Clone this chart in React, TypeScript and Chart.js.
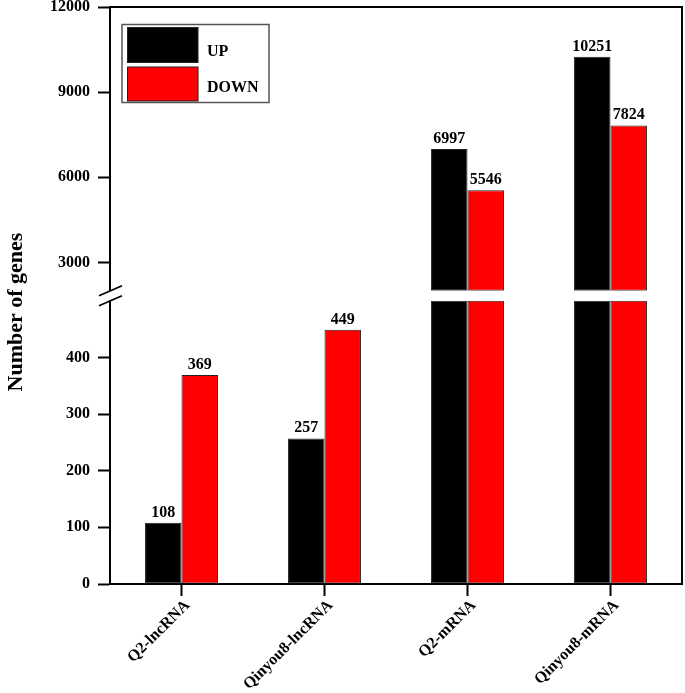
import React, { useEffect, useRef } from "react";
import { Chart, registerables } from "chart.js";

Chart.register(...registerables);

const categories = ["Q2-lncRNA", "Qinyou8-lncRNA", "Q2-mRNA", "Qinyou8-mRNA"];
const upValues = [108, 257, 6997, 10251];
const downValues = [369, 449, 5546, 7824];
const lowerTicks = [0, 100, 200, 300, 400];
const upperTicks = [3000, 6000, 9000, 12000];
const LOWER_MIN = 0;
const LOWER_MAX = 500;
const UPPER_MIN = 2000;
const UPPER_MAX = 12000;
const seriesNames = ["UP", "DOWN"];
const seriesColors = ["#000000", "#ff0000"];

const FONT = "'Liberation Serif', 'Times New Roman', serif";

const lowPart = (arr: number[]) => arr.map((v) => Math.min(v, LOWER_MAX));
const highPart = (arr: number[]) => arr.map((v) => (v > LOWER_MAX ? v : null));

const overlayPlugin = {
  id: "overlay",
  afterDatasetsDraw(chart: any) {
    const ctx = chart.ctx;
    ctx.save();
    ctx.font = `bold 16px ${FONT}`;
    ctx.fillStyle = "#000";
    ctx.textAlign = "center";
    ctx.textBaseline = "alphabetic";
    const series = [upValues, downValues];
    series.forEach((vals, s) => {
      vals.forEach((v, i) => {
        const dsIndex = v > LOWER_MAX ? 2 + s : s;
        const el = chart.getDatasetMeta(dsIndex).data[i];
        if (!el) return;
        ctx.fillText(String(v), el.x, el.y - 6);
      });
    });
    ctx.restore();
  },
  afterDraw(chart: any) {
    const ctx = chart.ctx;
    const { left, right, top, bottom } = chart.chartArea;
    const hi = chart.scales.yHi;
    const lo = chart.scales.yLo;
    ctx.save();
    ctx.strokeStyle = "#000";
    ctx.lineWidth = 2;
    ctx.beginPath();
    ctx.moveTo(left, top);
    ctx.lineTo(right, top);
    ctx.lineTo(right, bottom);
    ctx.stroke();
    // break marks
    const axX = hi.right;
    ctx.lineWidth = 1.8;
    ctx.beginPath();
    ctx.moveTo(axX - 11, hi.bottom + 5);
    ctx.lineTo(axX + 12, hi.bottom - 5);
    ctx.moveTo(axX - 11, lo.top + 5);
    ctx.lineTo(axX + 12, lo.top - 5);
    ctx.stroke();

    // legend
    ctx.lineWidth = 1.5;
    ctx.strokeStyle = "#555";
    ctx.fillStyle = "#fff";
    ctx.fillRect(122, 24.5, 147, 78);
    ctx.strokeRect(122, 24.5, 147, 78);
    const patches = [
      [127.5, 27.5, 70.5, 35],
      [127.5, 67, 70.5, 34],
    ];
    const textY = [52, 88];
    patches.forEach((p, k) => {
      ctx.fillStyle = seriesColors[k];
      ctx.fillRect(p[0], p[1], p[2], p[3]);
      ctx.strokeStyle = "#222";
      ctx.lineWidth = 1;
      ctx.strokeRect(p[0], p[1], p[2], p[3]);
      ctx.fillStyle = "#000";
      ctx.font = `bold 16px ${FONT}`;
      ctx.textAlign = "left";
      ctx.textBaseline = "middle";
      ctx.fillText(seriesNames[k], 207, textY[k]);
    });

    // y axis title
    ctx.translate(16, 312);
    ctx.rotate(-Math.PI / 2);
    ctx.font = `bold 22px ${FONT}`;
    ctx.fillStyle = "#000";
    ctx.textAlign = "center";
    ctx.textBaseline = "middle";
    ctx.fillText("Number of genes", 0, 0);
    ctx.restore();
  },
};

export default function App() {
  const canvasRef = useRef<HTMLCanvasElement | null>(null);

  useEffect(() => {
    document.body.style.margin = "0";
    const canvas = canvasRef.current;
    if (!canvas) return;

    const yFit = (scale: any) => {
      scale.width = 110;
      scale.paddingTop = 0;
      scale.paddingBottom = 0;
    };

    const yCommon = (ticksArr: number[]) => ({
      type: "linear" as const,
      position: "left" as const,
      stack: "yy",
      stacked: false,
      beginAtZero: false,
      border: { display: true, color: "#000", width: 2 },
      grid: {
        display: true,
        drawOnChartArea: false,
        drawTicks: true,
        tickLength: 12,
        tickWidth: 2,
        tickColor: "#000",
      },
      ticks: {
        color: "#000",
        padding: 8,
        font: { family: FONT, size: 16, weight: "bold" as const, lineHeight: 0.9 },
        callback: (v: any) => String(v),
      },
      afterBuildTicks: (scale: any) => {
        scale.ticks = ticksArr.map((v) => ({ value: v }));
      },
      afterFit: yFit,
    });

    const chart = new Chart(canvas, {
      type: "bar",
      data: {
        labels: categories,
        datasets: [
          {
            label: "UP",
            data: lowPart(upValues),
            yAxisID: "yLo",
            stack: "up",
            backgroundColor: seriesColors[0],
            borderColor: "#222",
            borderWidth: 1,
            borderSkipped: false,
          },
          {
            label: "DOWN",
            data: lowPart(downValues),
            yAxisID: "yLo",
            stack: "down",
            backgroundColor: seriesColors[1],
            borderColor: "#222",
            borderWidth: 1,
            borderSkipped: false,
          },
          {
            label: "UP",
            data: highPart(upValues),
            yAxisID: "yHi",
            stack: "up",
            base: UPPER_MIN,
            backgroundColor: seriesColors[0],
            borderColor: "#222",
            borderWidth: 1,
            borderSkipped: false,
          },
          {
            label: "DOWN",
            data: highPart(downValues),
            yAxisID: "yHi",
            stack: "down",
            base: UPPER_MIN,
            backgroundColor: seriesColors[1],
            borderColor: "#222",
            borderWidth: 1,
            borderSkipped: false,
          },
        ] as any,
      },
      options: {
        animation: false,
        responsive: false,
        maintainAspectRatio: false,
        devicePixelRatio: 1,
        layout: { padding: { top: 7, right: 3, left: 0, bottom: 0 } },
        datasets: {
          bar: { categoryPercentage: 0.51, barPercentage: 1 },
        },
        plugins: {
          legend: { display: false },
          tooltip: { enabled: false },
          title: { display: false },
        },
        scales: {
          x: {
            type: "category",
            offset: true,
            border: { display: true, color: "#000", width: 2 },
            grid: {
              display: true,
              offset: false,
              drawOnChartArea: false,
              drawTicks: true,
              tickLength: 12,
              tickWidth: 2,
              tickColor: "#000",
            },
            ticks: {
              color: "#000",
              padding: 0,
              labelOffset: 6,
              maxRotation: 45,
              minRotation: 45,
              autoSkip: false,
              font: { family: FONT, size: 16, weight: "bold" },
            },
            afterFit: (scale: any) => {
              scale.height = 109;
              scale.paddingLeft = 0;
              scale.paddingRight = 0;
            },
          },
          yLo: { ...yCommon(lowerTicks), min: LOWER_MIN, max: LOWER_MAX, stackWeight: 283 },
          yGap: {
            type: "linear",
            position: "left",
            stack: "yy",
            stackWeight: 10,
            min: 0,
            max: 1,
            border: { display: false },
            grid: { display: false, drawTicks: false },
            ticks: { display: false },
            afterFit: yFit,
          },
          yHi: { ...yCommon(upperTicks), min: UPPER_MIN, max: UPPER_MAX, stackWeight: 283.5 },
        } as any,
      },
      plugins: [overlayPlugin],
    });

    return () => chart.destroy();
  }, []);

  return (
    <div style={{ width: 685, height: 693, background: "#fff" }}>
      <canvas ref={canvasRef} width={685} height={693} style={{ display: "block" }} />
    </div>
  );
}
